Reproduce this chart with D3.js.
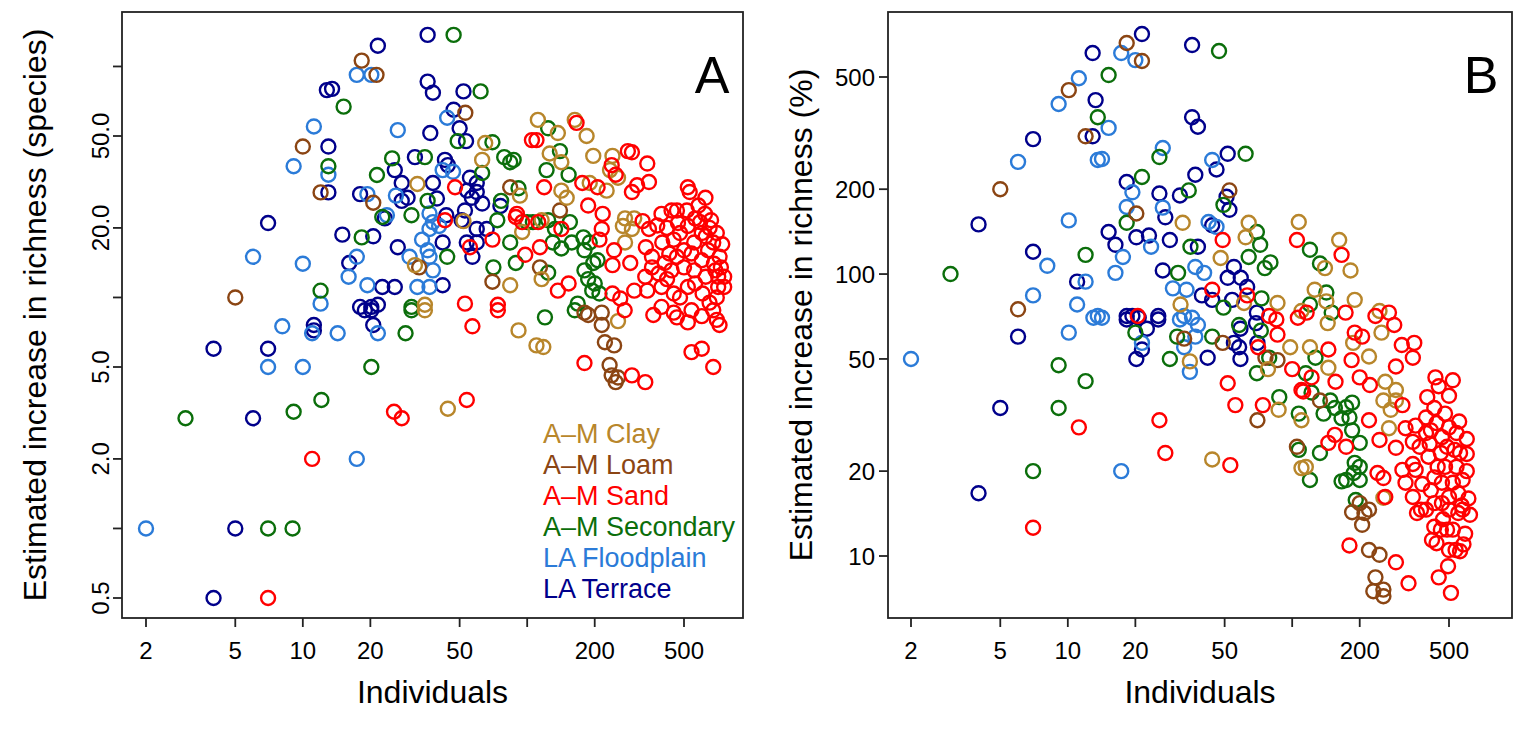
<!DOCTYPE html>
<html><head><meta charset="utf-8">
<script src="https://cdn.jsdelivr.net/npm/d3@7"></script>
<style>body{margin:0;background:#fff} text{font-family:"Liberation Sans",Arial,Helvetica,sans-serif;fill:#000}</style>
</head><body>
<svg id="c" width="1522" height="744"></svg>
<script>
const groups = ["A–M Clay","A–M Loam","A–M Sand","A–M Secondary","LA Floodplain","LA Terrace"];
const groupColors = ["#B8862B","#8B4513","#FF0000","#0B6E0B","#2B7BD8","#00008B"];
const xTicks = [2,5,10,20,50,100,200,500];
const xTickLabels = ["2","5","10","20","50","","200","500"];
const yTicksA = [0.5,1,2,5,10,20,50,100];
const yTickLabelsA = ["0.5","","2.0","5.0","","20.0","50.0",""];
const yTicksB = [10,20,50,100,200,500];
const yTickLabelsB = ["10","20","50","100","200","500"];

// ---------- Panel A: estimated increase in richness (species) ----------
const terraceA = [[4,0.5],[4,6],[5,1],[6,3],[7,6],[7,21],[11.2,7.6],[11.2,7.2],[12.8,79],[13,28.5],[13,45],
[36,137],[21.6,123],[13.5,80],[36,86],[38,77],[52,78],[47,65],[37,51.5],[50,54],[53.4,47.5],[31.6,40.5],[43,39.4],[44.3,37.4],[25.7,35.6],[27.6,31.3],[38,31.3],[55.6,33],[59.6,31.3],[54,29],[59.6,28.6],[18,28],[29.3,27],[39.6,26.8],[56.7,27],[27.6,26.2],[63,25.5],[76,24.9],[23.2,22],[43.6,22.7],[52.8,23.8],[51,21.6],[66,19.8],[59.6,19.8],[59.6,17.3],[53.8,17.3],[57,15],[16.1,14.1],[15,18.7],[20.6,18.4],[26.5,16.5],[42,17.3],[22.6,11.1],[25.7,11.1],[42,11.3],[18,9.1],[20.2,9.1],[21.6,9.3],[18.9,8.8],[20.2,8.8],[20.6,7.6]];
const floodA = [[2,1],[8.1,7.5],[7,5],[10,5],[11,7],[11.2,55],[9.1,37],[6,15],[10,14],[12,9.4],[13,34],[17.4,2.0],[17.4,92],[20.2,92],[44,60],[26.5,53],[42,35.6],[46.7,35],[19.4,28],[26,27.6],[23.7,22.7],[36.7,23.1],[38,21.2],[40.5,20.4],[36.7,19.8],[17.4,15],[29.9,15],[34,17.8],[36.7,15],[38,13.1],[36,16],[16,12.3],[19.4,11.3],[32.4,11.1],[36.7,11.1],[14.3,7],[21.6,7]];
const secondaryA = [[3,3],[9.1,3.2],[12.1,3.6],[7,1],[9,1],[12,10.7],[13,37],[47,137],[15.2,67],[62,78],[49,47.5],[70,47],[79,40.5],[87,39.4],[84,38.5],[25,40],[35,40.5],[21.4,33.9],[63,34.6],[91.5,29.7],[36,26.2],[76.5,26.2],[100,21.2],[22.6,22.3],[30.5,22.7],[73.6,21.6],[18.3,18.2],[44,15],[30.5,9.1],[70.7,13.5],[89,14.1],[106,21.2],[84,17.3],[28.7,7],[20.2,5],[30.5,8.8],[120,8.2],
[124,54],[140,43],[122,35.6],[153,34],[124,21.6],[133,19.8],[155,21.2],[178,18.2],[190,17.3],[130,17.3],[142,16.3],[206,14.5],[180,13.1],[187,12],[195,10.7],[210,10.4],[200,11.5],[168,9.4],[163,8.8],[124,12.8],[158,17.3],[180,16],[197,14.1]];
const loamA = [[5,10],[10,45],[12,28.5],[18.3,106],[21.3,92],[53,63],[20.6,25.7],[33,13.5],[84,30],[70,11.7],[140,23.8],[114,13.5],[180,8.6],[215,8.6],[187,8.4],[215,7.6],[222,6.4],[244,6.2],[233,5.1],[238,4.6],[254,4.5],[248,4.3]];
const clayA = [[65,46.6],[63,39.4],[32.4,31],[92.8,27.6],[52,21.4],[31.6,13.8],[35,9.3],[84,11.3],[95,19.2],[44.3,3.3],[91.5,7.2],[110,6.2],[35,8.8],
[111.6,58.7],[137,51.5],[163,58.7],[184,50],[126,42],[142,38.5],[197,41],[240,41],[234,35.6],[254,33],[142,29],[150,27],[190,31.3],[226,29],[273,22],[300,22],[267,20.4],[293,19.8],[116,21.6],[273,17.3],[116,12],[118,6.1],[254,7.9]];
const sandA = [[11,2],[7,0.5],[105,48],[47.7,30],[89,22.3],[95,21.2],[43,21.6],[70,17.8],[55.6,16.5],[52.8,9.4],[74,9.3],[98,15.3],[90,23],[25.5,3.2],[27.6,3],[53.8,3.6],[57,7.5],[74,8.8],
[166,57],[110,48],[281,43],[293,42.5],[343,38],[238,37.4],[248,34],[119,30],[176,31.3],[206,30],[309,30.6],[349,31.6],[293,28.6],[520,30],[623,27],[530,28.6],[187,25],[217,23],[327,21.4],[397,23],[440,23.8],[515,23.8],[660,21.6],[112,21.2],[142,19.8],[215,19.8],[210,17.8],[114,16.5],[244,16],[288,14.1],[240,13.8],[349,19.8],[338,16.5],[360,15],[400,17.3],[410,14.1],[450,17.8],[465,15],[520,20.4],[555,17.3],[590,21.2],[625,18.4],[675,17.3],[720,15],[690,13.1],[755,12.3],[625,12.3],[555,13.1],[500,13.5],[440,13.1],[385,12.7],[336,12.3],[300,10.7],[343,10.7],[397,11.1],[450,10.4],[520,11.1],[605,10.4],[710,11.1],[755,11.1],[710,12.3],[397,9.1],[450,8.6],[540,8.8],[675,8.8],[465,23.8],
[240,10.4],[260,9.9],[153,11.5],[137,10.7],[272,8.8],[180,5.2],[293,4.6],[336,4.3],[540,5.8],[600,6],[675,5],[365,8.4],[465,8.2],[520,7.8],[600,8.3],[700,8],[720,7.6],
[420,20],[480,19],[560,22],[600,19],[640,16],[680,14],[600,14.5],[500,16],[430,15.5],[380,20.5],[650,20],[700,19],[580,25],[470,21],[540,15.5],[620,23],[740,17],[730,13.5],[560,11.5],[480,10],[650,9.5],[700,10],[420,12],[360,13.5]];

// ---------- Panel B: estimated increase in richness (%) ----------
const terraceB = [[12.9,608],[13.3,414],[12.9,308],[7,301],[4,150],[7,120],[11,94],[6,60],[5,33.5],[4,16.7],
[21.4,710],[35.8,649],[35.8,360],[38,333],[51.6,267],[46,235],[18.3,212],[37,225],[25.6,193],[31.6,190],[51,188],[52.5,169],[27.2,159],[44,149],[15.2,141],[16.3,127],[20.2,135],[23,137],[28.5,132],[38,125],[26.5,103],[55,106],[59,97],[51.6,97],[39.6,84],[44,81],[54,81],[63,90],[19.4,71],[25.3,71],[69.6,73],[18.3,71],
[18.3,69],[20.7,70],[25.3,69],[21.4,54],[20.2,50],[22.5,64],[42,50.5],[55,57],[58.8,64],[58.8,50],[58,55],[70,57],[69,67]];
const floodB = [[11.2,495],[9.1,401],[6,250],[13.6,254],[10.1,155],[8.1,107],[12,94],[7,84],[11,78],[13.6,71],[10.1,62],[13,70],[2,50],
[17.3,608],[20,574],[15.2,330],[14.2,256],[26.5,280],[44,254],[19.4,195],[18.3,173],[26.5,172],[42.4,153],[46,147],[17.6,115],[23.5,125],[16.3,101],[37,106],[40.5,101],[29.4,89],[33.8,88],[33,71],
[14.2,70],[21.4,57],[31.6,69],[35.8,70],[38,66],[33,55],[37,60],[35,45],[17.3,20]];
const secondaryB = [[13.6,360],[12,117],[3,100],[9.1,47.5],[12,41.7],[9.1,33.5],[7,20],
[47.2,618],[15.2,508],[25.6,260],[62,267],[21.4,221],[34.6,198],[49.4,176],[18.3,152],[69.6,141],[72,127],[35.2,125],[64,115],[75.5,105],[80,110],[31,101],[73,82],[49.4,76],
[20,62],[28.5,50],[30.7,60],[44,60],[58,66],[72.5,63],[79,50.5],[69.6,44.5],[87.6,36.6],[107,23.8],[107,32],
[120,122],[133,109],[142,86],[120,78],[150,73],[127,50.5],[115,44.5],[122,38],[138,32],[148,35.6],[155,33.5],[174,33.7],[180,31],[185,35],[166,30.8],[185,27.9],[200,25.2],[133,23.2],[190,21.4],[200,20.7],[188,19.7],[174,18.6],[200,18.6],[166,18.4],[120,18.6],[192,15.8]];
const loamB = [[10.1,449],[12,308],[5,200],[6,75],[18.3,660],[21.4,570],[52.5,198],[20.2,164],
[33,59],[49,57],[76,50.5],[86,49.5],[70,30.3],[105,24.4],
[133,35.6],[200,15.4],[185,14.3],[210,14.2],[220,14.6],[205,12.9],[220,10.5],[245,10.1],[235,8.4],[230,7.5],[255,7.6],[255,7.2]];
const clayB = [[32.5,152],[64,152],[62,135],[107,153],[48,114],[61,79],[86,79],[31.8,78],[110,74],
[35,49],[78,46],[98,55],[87,33],[44,22],[110,20.5],
[140,105],[162,132],[182,103],[126,88],[142,80],[190,81],[245,74],
[144,67],[187,57],[220,51],[250,62],[120,55],[145,46.5],[110,30.3],[260,41.5],[290,38.8],[255,35.6],[275,33],[290,35.6],[270,28.4],[115,20.7],[255,16.1]];
const sandB = [[11.2,28.6],[7,12.6],[49,132],[105,132],[44,88],[63,84],[20.5,71],[79,71],[106,70],
[70.5,55],[85,69],[86,61],[100,46],[51.6,41],[55.8,34.3],[74,34.3],[25.6,30.3],[27.2,23.2],[53,21],[110,38.8],
[166,117],[116,73],[173,73],[235,71],[270,73],
[190,62],[205,60],[184,49.5],[285,66],[308,56],[350,57],[345,50.5],[145,54],[156,41.5],[122,43],[112,38.3],[200,43],[222,40.4],[290,47],[310,34.3],[220,30.3],[245,25.8],[290,24.2],[155,26.9],[145,25.2],[174,24.4],[240,19.7],[255,18.9],[260,16.2],[180,10.9],[290,9.5],[330,8],
[320,28.4],[355,29],[345,25.4],[370,24.4],[400,36.6],[430,33.5],[435,43],[500,37],[395,31],[415,27.9],[405,22.5],[440,29.6],[465,26.4],[500,28.6],[540,27.3],[560,23.2],[530,23.8],[490,24.4],[460,23.2],[445,20.7],[480,20.7],[540,20.7],[575,18.6],[550,16.7],[570,15.1],[520,18.2],[500,16.2],[465,18.2],[430,19],[415,17.1],[430,15.4],[465,15.4],[355,20.2],[320,18.2],[310,20.2],[345,16.2],[375,14.6],[395,14.6],[360,14.2],[430,12.7],[460,12.4],[420,11.4],[440,11.1],[490,12.4],[520,12.4],[500,10.5],[535,10.5],[495,9.2],[450,8.4],[510,7.4],[500,14.6],[550,14.2],[575,14.6],[395,27.3],[345,21.2],
[600,20],[610,16],[620,14],[590,12],[600,23],[450,40],[520,42],[600,26],[580,11],[560,10.4],[470,13.5],[380,18],[410,25],[480,32],[555,30]];

const panelA = [terraceA, floodA, secondaryA, loamA, clayA, sandA];
const panelB = [terraceB, floodB, secondaryB, loamB, clayB, sandB];
const panelGroupIdx = [5,4,3,1,0,2];

const svg = d3.select("#c");

function drawPanel(cfg) {
  const {left, right, top, bottom, x, y, data, yTicks, yLabels, rotateY, letter, yTitle, yTitleX, yLabelX} = cfg;
  const g = svg.append("g");
  data.forEach((pts, k) => {
    const col = groupColors[panelGroupIdx[k]];
    g.selectAll(null).data(pts).enter().append("circle")
      .attr("cx", d => x(d[0])).attr("cy", d => y(d[1])).attr("r", 7)
      .attr("fill", "none").attr("stroke", col).attr("stroke-width", 2.4);
  });
  g.append("rect").attr("x", left).attr("y", top).attr("width", right-left).attr("height", bottom-top)
    .attr("fill","none").attr("stroke","#222").attr("stroke-width",1.8);
  xTicks.forEach((t,i) => {
    g.append("line").attr("x1", x(t)).attr("x2", x(t)).attr("y1", bottom).attr("y2", bottom+9)
      .attr("stroke","#222").attr("stroke-width",1.8);
    if (xTickLabels[i]) g.append("text").attr("x", x(t)).attr("y", bottom+41).attr("text-anchor","middle")
      .attr("font-size", 24).text(xTickLabels[i]);
  });
  g.append("text").attr("x",(left+right)/2).attr("y", 703).attr("text-anchor","middle")
    .attr("font-size", 32).text("Individuals");
  yTicks.forEach((t,i) => {
    g.append("line").attr("x1", left-9).attr("x2", left).attr("y1", y(t)).attr("y2", y(t))
      .attr("stroke","#222").attr("stroke-width",1.8);
    if (yLabels[i]) {
      if (rotateY) {
        g.append("text").attr("transform", `translate(${yLabelX},${y(t)}) rotate(-90)`)
          .attr("text-anchor","middle").attr("font-size",24).text(yLabels[i]);
      } else {
        g.append("text").attr("x", yLabelX).attr("y", y(t)).attr("dy","0.36em")
          .attr("text-anchor","end").attr("font-size",24).text(yLabels[i]);
      }
    }
  });
  g.append("text").attr("transform", `translate(${yTitleX},${(top+bottom)/2}) rotate(-90)`)
    .attr("text-anchor","middle").attr("font-size",32).text(yTitle);
  g.append("text").attr("x", right-31).attr("y", 93).attr("text-anchor","middle")
    .attr("font-size",52).text(letter);
}

const xA = d3.scaleLog().domain([2,500]).range([146,684]);
const yA = d3.scaleLog().domain([0.5,50]).range([598,136]);
const xB = d3.scaleLog().domain([2,500]).range([911,1449]);
const yB = d3.scaleLog().domain([10,500]).range([556,77]);

drawPanel({left:122,right:743,top:12,bottom:618,x:xA,y:yA,data:panelA,yTicks:yTicksA,yLabels:yTickLabelsA,
  rotateY:true,letter:"A",yTitle:"Estimated increase in richness (species)",yTitleX:46,yLabelX:109});
drawPanel({left:888,right:1512,top:12,bottom:618,x:xB,y:yB,data:panelB,yTicks:yTicksB,yLabels:yTickLabelsB,
  rotateY:false,letter:"B",yTitle:"Estimated increase in richness (%)",yTitleX:812,yLabelX:875});

const leg = svg.append("g");
groups.forEach((name,i) => {
  leg.append("text").attr("x",543).attr("y",433 + i*31).attr("dy","0.36em")
    .attr("font-size",27).style("fill", groupColors[i]).text(name);
});
</script>
</body></html>
